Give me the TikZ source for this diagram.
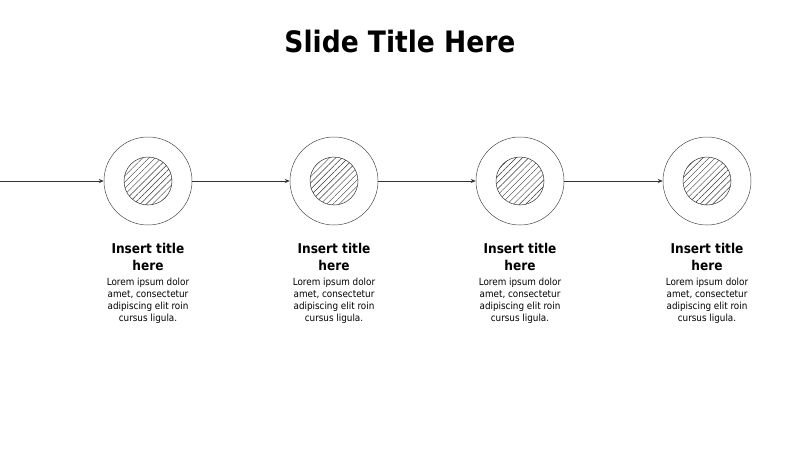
\documentclass[tikz,border=0pt]{standalone}
\usepackage{fontspec}
\setmainfont{DejaVu Sans Condensed}
\usetikzlibrary{arrows.meta,patterns.meta}
\tikzset{
  ring/.style={circle, draw=black!70, line width=0.5pt, minimum size=88pt, inner sep=0pt},
  core/.style={circle, draw=black!80, line width=0.5pt, minimum size=48pt, inner sep=0pt,
    pattern={Lines[angle=45, distance=4.4pt, line width=0.45pt]}, pattern color=black!80},
  link/.style={draw=black!80, line width=0.6pt, -{Stealth[length=5pt,width=4pt]}},
  steptitle/.style={anchor=north, align=center, inner sep=0pt,
    font=\bfseries\fontsize{13.5}{16.5}\selectfont},
  steptext/.style={anchor=north, align=center, inner sep=0pt,
    font=\fontsize{9.8}{12.2}\selectfont}
}
\begin{document}
\begin{tikzpicture}[x=1pt, y=-1pt]
    \useasboundingbox (0, 0) rectangle (800, 450);
    \node [anchor=base, font=\bfseries\fontsize{29.5}{34}\selectfont] (title) at (400, 52) {Slide Title Here};
    \coordinate (start) at (0, 181);
    \foreach \i/\x in {1/148, 2/334, 3/520, 4/707} {
        \node [ring] (ring\i) at (\x, 181) {};
        \node [core] (core\i) at (\x, 181) {};
        \node [steptitle] (head\i) at (\x, 243.5) {Insert title\\here};
        \node [steptext] (text\i) at (\x, 277.5) {Lorem ipsum dolor\\amet, consectetur\\adipiscing elit roin\\cursus ligula.};
    }
    \draw [link] (start) -- (ring1);
    \foreach \i/\j in {1/2, 2/3, 3/4} {
        \draw [link] (ring\i) -- (ring\j);
    }
\end{tikzpicture}
\end{document}
